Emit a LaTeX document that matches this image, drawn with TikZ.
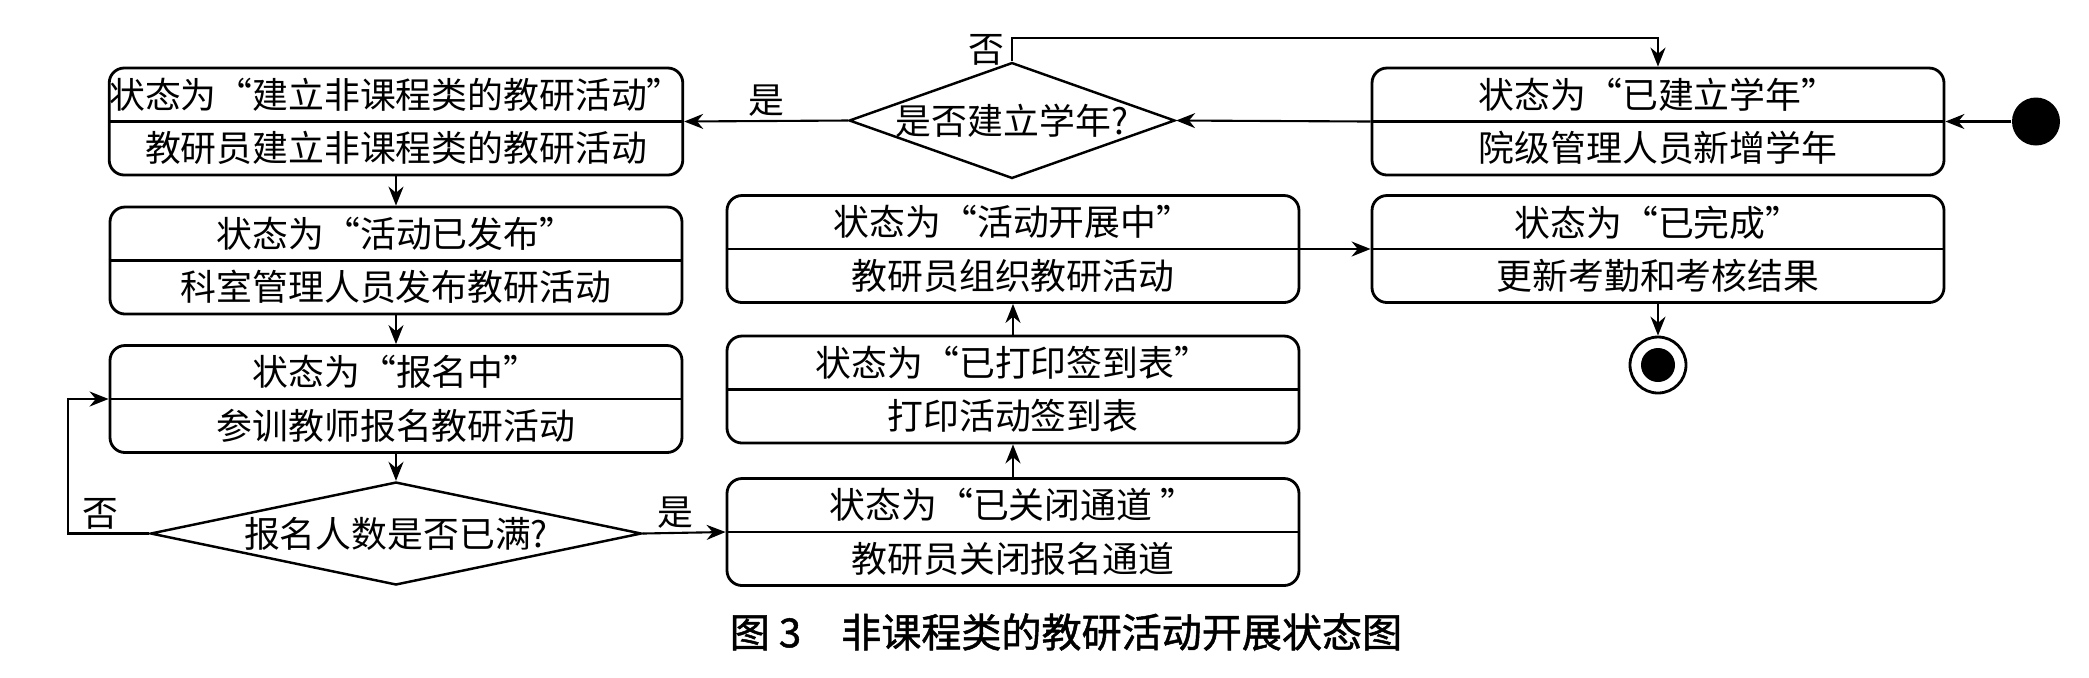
\documentclass[tikz,border=0pt]{standalone}
\usepackage{fontspec}
\newfontfamily\cjk{Noto Sans CJK SC}
\newfontfamily\capfont[FakeBold=1.2]{Noto Sans CJK SC}
\usetikzlibrary{arrows.meta,shapes.geometric}
\tikzset{
  state/.style={draw, rounded corners=1.5mm, line width=0.8pt, minimum width=5.72cm,
    minimum height=1.07cm, inner sep=0pt, align=center, font=\cjk\fontsize{10.2}{15.2}\selectfont},
  ask/.style={draw, diamond, line width=0.7pt, inner sep=0pt, font=\cjk\fontsize{10.2}{12}\selectfont},
  flow/.style={-{Stealth[length=1.9mm,width=1.5mm]}, line width=0.6pt},
  tag/.style={font=\cjk\fontsize{10.2}{12}\selectfont, inner sep=1pt},
}
\begin{document}
\begin{tikzpicture}
      \useasboundingbox (0,0) rectangle (20.89,-6.77);
      \draw
        (20.36,-1.215) node[circle, fill, minimum size=0.48cm, inner sep=0pt] (start){}
        (16.58,-1.215) node[state] (year){状态为“已建立学年”\\院级管理人员新增学年}
        (10.12,-1.205) node[ask, minimum width=3.12cm, minimum height=1.11cm, aspect=2.81] (hasyear){是否建立学年?}
        (3.96,-1.215) node[state] (create){状态为“建立非课程类的教研活动”\\教研员建立非课程类的教研活动}
        (3.96,-2.605) node[state] (publish){状态为“活动已发布”\\科室管理人员发布教研活动}
        (3.96,-3.99) node[state] (enrol){状态为“报名中”\\参训教师报名教研活动}
        (3.96,-5.335) node[ask, minimum width=4.91cm, minimum height=1.03cm, aspect=4.77] (isfull){报名人数是否已满?}
        (10.13,-5.32) node[state] (closed){状态为“已关闭通道 ”\\教研员关闭报名通道}
        (10.13,-3.895) node[state] (printed){状态为“已打印签到表”\\打印活动签到表}
        (10.13,-2.49) node[state] (running){状态为“活动开展中”\\教研员组织教研活动}
        (16.58,-2.49) node[state] (done){状态为“已完成”\\更新考勤和考核结果}
        (16.58,-3.65) node[circle, draw, line width=0.8pt, minimum size=0.56cm, inner sep=0pt] (stop){}
        (16.58,-3.65) node[circle, fill, minimum size=0.34cm, inner sep=0pt] (stopdot){}
        (10.66,-6.32) node[font=\capfont\fontsize{11.4}{13}\selectfont] (caption){图 3　非课程类的教研活动开展状态图};
      \begin{scope}[line width=0.8pt]
        \draw (year.west) -- (year.east);
        \draw (create.west) -- (create.east);
        \draw (publish.west) -- (publish.east);
        \draw (enrol.west) -- (enrol.east);
        \draw (closed.west) -- (closed.east);
        \draw (printed.west) -- (printed.east);
        \draw (running.west) -- (running.east);
        \draw (done.west) -- (done.east);
      \end{scope}
      \begin{scope}[flow]
        \draw (start) to (year.east);
        \draw (year.west) to (hasyear.east);
        \draw (hasyear.west) to node[tag, above] (yes1){是} (create.east);
        \draw (hasyear.north) -- node[tag, left, inner sep=2pt] (no1){否} ++(0,0.23) -| (year.north);
        \draw (create) to (publish);
        \draw (publish) to (enrol);
        \draw (enrol) to (isfull);
        \draw (isfull.west) -- node[tag, above, pos=0.6] (no2){否} ++(-0.81,0) |- (enrol.west);
        \draw (isfull.east) to node[tag, above, pos=0.4] (yes2){是} (closed.west);
        \draw (closed) to (printed);
        \draw (printed) to (running);
        \draw (running.east) to (done.west);
        \draw (done) to (stop);
      \end{scope}
    \end{tikzpicture}
\end{document}
